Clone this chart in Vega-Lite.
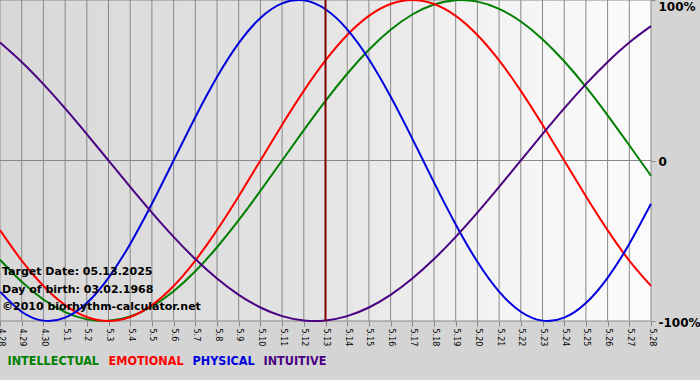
{
  "$schema": "https://vega.github.io/schema/vega-lite/v6.json",
  "width": 651,
  "height": 321,
  "autosize": "none",
  "padding": {"left": 0, "top": 0, "right": 49, "bottom": 59},
  "background": "#d4d4d4",
  "config": {
    "view": {"stroke": null},
    "axisX": {"tickCount": 30, "grid": false, "domain": false, "ticks": true, "tickColor": "#888888", "tickSize": 5,
      "labelAngle": 90, "labelFont": "DejaVu Sans", "labelFontSize": 8, "labelColor": "#000000",
      "labelPadding": 2, "labelOverlap": false, "labelBound": false, "labelFlush": false, "title": null},
    "axisY": {"tickCount": 2, "grid": false, "domain": false, "ticks": true, "tickColor": "#888888", "tickSize": 4,
      "labelFont": "DejaVu Sans", "labelFontWeight": "bold", "labelFontSize": 12, "labelColor": "#000000",
      "labelPadding": 3, "labelFlush": false, "labelOverlap": false, "labelOffset": 1, "title": null}
  },
  "data": {"values": [
    {"d": 0, "INTELLECTUAL": -0.6182, "EMOTIONAL": -0.4339, "PHYSICAL": -0.8170, "INTUITIVE": 0.7357},
    {"d": 1, "INTELLECTUAL": -0.7557, "EMOTIONAL": -0.6235, "PHYSICAL": -0.9423, "INTUITIVE": 0.6142},
    {"d": 2, "INTELLECTUAL": -0.8660, "EMOTIONAL": -0.7818, "PHYSICAL": -0.9977, "INTUITIVE": 0.4759},
    {"d": 3, "INTELLECTUAL": -0.9450, "EMOTIONAL": -0.9010, "PHYSICAL": -0.9791, "INTUITIVE": 0.3247},
    {"d": 4, "INTELLECTUAL": -0.9898, "EMOTIONAL": -0.9749, "PHYSICAL": -0.8879, "INTUITIVE": 0.1646},
    {"d": 5, "INTELLECTUAL": -0.9989, "EMOTIONAL": -1.0, "PHYSICAL": -0.7308, "INTUITIVE": 0.0},
    {"d": 6, "INTELLECTUAL": -0.9718, "EMOTIONAL": -0.9749, "PHYSICAL": -0.5196, "INTUITIVE": -0.1646},
    {"d": 7, "INTELLECTUAL": -0.9096, "EMOTIONAL": -0.9010, "PHYSICAL": -0.2698, "INTUITIVE": -0.3247},
    {"d": 8, "INTELLECTUAL": -0.8146, "EMOTIONAL": -0.7818, "PHYSICAL": 0.0, "INTUITIVE": -0.4759},
    {"d": 9, "INTELLECTUAL": -0.6901, "EMOTIONAL": -0.6235, "PHYSICAL": 0.2698, "INTUITIVE": -0.6142},
    {"d": 10, "INTELLECTUAL": -0.5406, "EMOTIONAL": -0.4339, "PHYSICAL": 0.5196, "INTUITIVE": -0.7357},
    {"d": 11, "INTELLECTUAL": -0.3717, "EMOTIONAL": -0.2225, "PHYSICAL": 0.7308, "INTUITIVE": -0.8372},
    {"d": 12, "INTELLECTUAL": -0.1893, "EMOTIONAL": 0.0, "PHYSICAL": 0.8879, "INTUITIVE": -0.9158},
    {"d": 13, "INTELLECTUAL": 0.0, "EMOTIONAL": 0.2225, "PHYSICAL": 0.9791, "INTUITIVE": -0.9694},
    {"d": 14, "INTELLECTUAL": 0.1893, "EMOTIONAL": 0.4339, "PHYSICAL": 0.9977, "INTUITIVE": -0.9966},
    {"d": 15, "INTELLECTUAL": 0.3717, "EMOTIONAL": 0.6235, "PHYSICAL": 0.9423, "INTUITIVE": -0.9966},
    {"d": 16, "INTELLECTUAL": 0.5406, "EMOTIONAL": 0.7818, "PHYSICAL": 0.8170, "INTUITIVE": -0.9694},
    {"d": 17, "INTELLECTUAL": 0.6901, "EMOTIONAL": 0.9010, "PHYSICAL": 0.6311, "INTUITIVE": -0.9158},
    {"d": 18, "INTELLECTUAL": 0.8146, "EMOTIONAL": 0.9749, "PHYSICAL": 0.3984, "INTUITIVE": -0.8372},
    {"d": 19, "INTELLECTUAL": 0.9096, "EMOTIONAL": 1.0, "PHYSICAL": 0.1362, "INTUITIVE": -0.7357},
    {"d": 20, "INTELLECTUAL": 0.9718, "EMOTIONAL": 0.9749, "PHYSICAL": -0.1362, "INTUITIVE": -0.6142},
    {"d": 21, "INTELLECTUAL": 0.9989, "EMOTIONAL": 0.9010, "PHYSICAL": -0.3984, "INTUITIVE": -0.4759},
    {"d": 22, "INTELLECTUAL": 0.9898, "EMOTIONAL": 0.7818, "PHYSICAL": -0.6311, "INTUITIVE": -0.3247},
    {"d": 23, "INTELLECTUAL": 0.9450, "EMOTIONAL": 0.6235, "PHYSICAL": -0.8170, "INTUITIVE": -0.1646},
    {"d": 24, "INTELLECTUAL": 0.8660, "EMOTIONAL": 0.4339, "PHYSICAL": -0.9423, "INTUITIVE": 0.0},
    {"d": 25, "INTELLECTUAL": 0.7557, "EMOTIONAL": 0.2225, "PHYSICAL": -0.9977, "INTUITIVE": 0.1646},
    {"d": 26, "INTELLECTUAL": 0.6182, "EMOTIONAL": 0.0, "PHYSICAL": -0.9791, "INTUITIVE": 0.3247},
    {"d": 27, "INTELLECTUAL": 0.4582, "EMOTIONAL": -0.2225, "PHYSICAL": -0.8879, "INTUITIVE": 0.4759},
    {"d": 28, "INTELLECTUAL": 0.2817, "EMOTIONAL": -0.4339, "PHYSICAL": -0.7308, "INTUITIVE": 0.6142},
    {"d": 29, "INTELLECTUAL": 0.0951, "EMOTIONAL": -0.6235, "PHYSICAL": -0.5196, "INTUITIVE": 0.7357},
    {"d": 30, "INTELLECTUAL": -0.0951, "EMOTIONAL": -0.7818, "PHYSICAL": -0.2698, "INTUITIVE": 0.8372}
  ]},
  "layer": [
    {
      "data": {"values": [{}]},
      "mark": {"type": "rect", "fill": {"gradient": "linear", "x1": 0, "y1": 0, "x2": 1, "y2": 0, "stops": [
        {"offset": 0, "color": "#d8d8d8"},
        {"offset": 0.45, "color": "#e2e2e2"},
        {"offset": 0.75, "color": "#f3f3f3"},
        {"offset": 1, "color": "#fbfbfb"}
      ]}},
      "encoding": {
        "x": {"datum": 0, "type": "quantitative"},
        "x2": {"datum": 30},
        "y": {"datum": -1, "type": "quantitative"},
        "y2": {"datum": 1}
      }
    },
    {
      "mark": {"type": "rule", "color": "#888888", "strokeWidth": 1},
      "encoding": {"x": {"field": "d", "type": "quantitative"}}
    },
    {
      "data": {"values": [{}]},
      "mark": {"type": "rule", "color": "#888888", "strokeWidth": 1},
      "encoding": {"y": {"datum": 0, "type": "quantitative"}}
    },
    {
      "data": {"values": [{}]},
      "mark": {"type": "rule", "color": "#888888", "strokeWidth": 1},
      "encoding": {"y": {"datum": -1, "type": "quantitative"}}
    },
    {
      "data": {"values": [{}]},
      "mark": {"type": "rule", "color": "#888888", "strokeWidth": 1},
      "encoding": {"y": {"datum": 1, "type": "quantitative"}}
    },
    {
      "transform": [{"fold": ["INTELLECTUAL", "EMOTIONAL", "PHYSICAL", "INTUITIVE"], "as": ["series", "value"]}],
      "mark": {"type": "line", "strokeWidth": 2, "interpolate": "natural"},
      "encoding": {
        "x": {"field": "d", "type": "quantitative",
          "scale": {"domain": [0, 30], "nice": false, "zero": false},
          "axis": {"title": null, "tickCount": 30,
            "labelExpr": "datum.value <= 2 ? '4.' + (datum.value + 28) : '5.' + (datum.value - 2)",
            "labelOverlap": false}},
        "y": {"field": "value", "type": "quantitative",
          "scale": {"domain": [-1, 1], "nice": false, "zero": false},
          "axis": {"title": null, "orient": "right", "tickCount": 2,
            "labelExpr": "datum.value == 1 ? '100%' : (datum.value == -1 ? '-100%' : '0')",
            "labelBaseline": {"condition": {"test": "datum.value == 1", "value": "top"}, "value": "middle"}}},
        "color": {"field": "series", "type": "nominal",
          "scale": {"domain": ["INTELLECTUAL", "EMOTIONAL", "PHYSICAL", "INTUITIVE"],
                    "range": ["#007f00", "#ff0000", "#0000dd", "#4b0082"]},
          "sort": ["INTELLECTUAL", "EMOTIONAL", "PHYSICAL", "INTUITIVE"],
          "legend": {"title": null, "orient": "none", "legendX": 7, "legendY": 355, "direction": "horizontal",
            "symbolSize": 0, "symbolStrokeWidth": 0, "symbolOpacity": 0, "labelOffset": -12,
            "columnPadding": 8, "padding": 0,
            "labelFont": "DejaVu Sans Condensed, DejaVu Sans", "labelFontWeight": "bold", "labelFontSize": 12.5,
            "encode": {"labels": {"update": {"fill": {"scale": "color", "field": "value"}}}}}}
      }
    },
    {
      "data": {"values": [{}]},
      "mark": {"type": "rule", "color": "#800000", "strokeWidth": 2},
      "encoding": {"x": {"datum": 15, "type": "quantitative"}}
    },
    {
      "data": {"values": [{}]},
      "mark": {"type": "text", "text": ["Target Date: 05.13.2025", "Day of birth: 03.02.1968", "©2010 biorhythm-calculator.net"],
        "align": "left", "baseline": "bottom", "dx": 2, "dy": -44, "lineHeight": 17.5,
        "font": "DejaVu Sans", "fontWeight": "bold", "fontSize": 11, "color": "#000000"},
      "encoding": {
        "x": {"datum": 0, "type": "quantitative"},
        "y": {"datum": -1, "type": "quantitative"}
      }
    }
  ]
}
